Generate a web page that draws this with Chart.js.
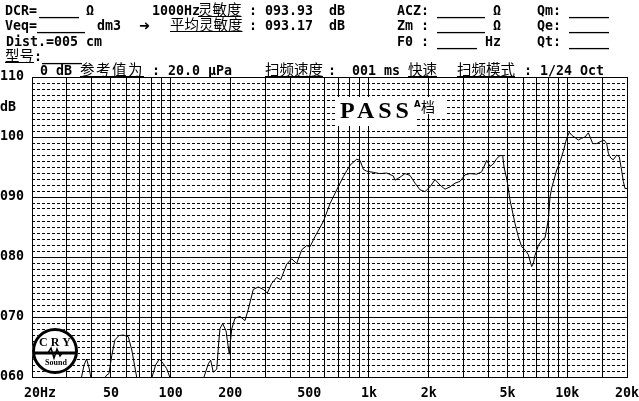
<!DOCTYPE html>
<html><head><meta charset="utf-8">
<script src="https://cdn.jsdelivr.net/npm/chart.js@4.4.1/dist/chart.umd.min.js"></script>
<style>
html,body{margin:0;padding:0;background:#fff}
#wrap{position:relative;width:639px;height:401px;overflow:hidden;background:#fff}
canvas{position:absolute;left:0;top:0}
.t{position:absolute;font-family:"DejaVu Sans Mono";font-weight:bold;font-size:13.3px;line-height:14px;white-space:pre;color:#000}
.cn{font-family:"Noto Sans CJK SC";font-weight:normal;font-size:14.5px;line-height:1px;text-decoration:underline;text-underline-offset:1px;text-decoration-thickness:1px}
.wb{position:absolute;background:#fff}
</style></head>
<body><div id="wrap"><canvas id="c" width="639" height="401"></canvas>
<!-- header line 1 -->
<div class="t" style="left:5px;top:4px">DCR=</div>
<div class="t" style="left:39px;top:4px">_____</div>
<div class="t" style="left:86px;top:4px">Ω</div>
<div class="t" style="left:152px;top:4px">1000Hz</div>
<div class="t" style="left:198px;top:4px"><span class="cn">灵敏度</span></div>
<div class="t" style="left:249px;top:4px">: 093.93  dB</div>
<div class="t" style="left:397px;top:4px">ACZ: ______ Ω</div>
<div class="t" style="left:537px;top:4px">Qm: _____</div>
<!-- header line 2 -->
<div class="t" style="left:5px;top:19px">Veq=______</div>
<div class="t" style="left:97px;top:19px">dm3</div>
<div class="t" style="left:139px;top:19px;font-family:'DejaVu Sans'">➜</div>
<div class="t" style="left:170px;top:19px"><span class="cn">平均灵敏度</span></div>
<div class="t" style="left:249px;top:19px">: 093.17  dB</div>
<div class="t" style="left:397px;top:19px">Zm : ______ Ω</div>
<div class="t" style="left:537px;top:19px">Qe: _____</div>
<!-- header line 3 -->
<div class="t" style="left:6px;top:35px">Dist.=005 cm</div>
<div class="t" style="left:397px;top:35px">F0 : _____ Hz</div>
<div class="t" style="left:537px;top:35px">Qt: _____</div>
<!-- header line 4 -->
<div class="t" style="left:5px;top:50px"><span class="cn">型号</span>:_____</div>
<!-- header line 5 -->
<div class="t" style="left:40px;top:64px">0 dB</div>
<div class="t" style="left:80px;top:64px"><span class="cn" style="letter-spacing:1.5px">参考值为</span></div>
<div class="t" style="left:152px;top:64px">: 20.0 μPa</div>
<div class="t" style="left:265px;top:64px"><span class="cn">扫频速度</span></div>
<div class="t" style="left:328px;top:64px">:  001 ms</div>
<div class="t" style="left:408px;top:64px"><span class="cn">快速</span></div>
<div class="t" style="left:457px;top:64px"><span class="cn">扫频模式</span></div>
<div class="t" style="left:524px;top:64px">: 1/24 Oct</div>
<div class="t" style="left:0px;top:100px">dB</div>
<!-- PASS stamp -->
<div class="wb" style="left:335px;top:97px;width:82px;height:29px"></div>
<div class="wb" style="left:417px;top:97px;width:30px;height:17px"></div>
<div style="position:absolute;left:340px;top:98px;font:bold 24px 'Liberation Serif';line-height:24px;letter-spacing:4px;color:#000">PASS</div>
<div style="position:absolute;left:414px;top:100px;font:bold 8.5px 'DejaVu Sans';line-height:9px;color:#000">A</div>
<div style="position:absolute;left:421px;top:99px;font:14px 'Noto Sans CJK SC';line-height:14px;color:#000">档</div>
</div>
<script>
// Measured frequency response (Hz, dB SPL)
const freqHz = [
  20, 34.1, 35.3, 36.6, 37.7, 38.8, 40.1, 42, 45.1, 47.2,
  48.9, 50.5, 52.4, 54.9, 57.7, 61.2, 63.7, 67.4, 70.1, 76.9,
  80.6, 84, 87.7, 91.5, 95.5, 99, 103, 140.7, 147.3, 154.9,
  159.2, 164.1, 170.8, 175, 177.4, 183, 190.2, 197.6, 203.2, 211.1,
  223.7, 237.1, 246.4, 261.1, 276.7, 293.2, 307.2, 323.3, 342.6, 358.9,
  384.7, 407.7, 432.1, 457.9, 485.3, 504.2, 534.4, 588.6, 636.3, 687.8,
  742.5, 802.7, 867.6, 901.5, 936.8, 974.4, 1052, 1137, 1229, 1327,
  1353, 1434, 1520, 1611, 1707, 1809, 1917, 2031, 2153, 2281,
  2418, 2562, 2715, 2877, 3049, 3231, 3493, 3702, 3923, 4077,
  4236, 4406, 4578, 4724, 4797, 4967, 5142, 5449, 5662, 5891,
  6120, 6358, 6613, 6738, 6873, 7142, 7430, 7720, 8021, 8181,
  8345, 8843, 9188, 9547, 9931, 10238, 10528, 10940, 11368, 11825,
  12287, 12767, 13022, 13435, 14074, 14622, 15316, 15804, 16101, 16556,
  17064, 17751, 18296, 18813, 19167, 19545, 20000
];
const splDb = [
  50, 55, 59.5, 62, 63, 61.5, 59, 55, 58.5, 60.2,
  60.6, 63.6, 66.2, 66.9, 67, 66.7, 64.5, 60, 57, 57,
  60, 62, 63, 62.3, 61.4, 60, 57, 57, 60, 62.2,
  62.8, 60.8, 61.3, 66, 68.1, 68.9, 67.7, 63.8, 68, 69.8,
  70.1, 69.4, 71.3, 74.6, 75, 74.6, 74, 75.6, 76.6, 76.2,
  78.8, 79.7, 78.9, 81.2, 81.9, 81.7, 83.4, 85.9, 88.9, 91.2,
  93.4, 95.3, 96.3, 96.1, 94.6, 94.3, 94.1, 93.9, 94, 93.5,
  92.8, 93.3, 93.9, 93.6, 92.3, 91.2, 90.9, 91.7, 92.9, 92,
  91.3, 91.7, 92.3, 92.6, 93.7, 93.9, 93.8, 94.2, 96.1, 95.1,
  95.5, 96.4, 96.9, 96.9, 95, 92.8, 89.5, 85.6, 83.4, 81.7,
  81.2, 80.4, 78.4, 78.9, 80.3, 81.9, 82.8, 83.2, 86.2, 90,
  91.5, 94.5, 95.8, 97.6, 99.8, 100.8, 100.3, 99.9, 99.5, 99.8,
  100, 100.7, 100, 98.9, 98.9, 99.2, 99.5, 98.9, 97.3, 96.5,
  96.2, 97, 96.7, 94.3, 92.6, 91.4, 91.4
];
// Axis grid & labels
const xGridHz = [20,30,40,50,60,70,80,90,100,200,300,400,500,600,700,800,900,1000,2000,3000,4000,5000,6000,7000,8000,9000,10000,15000,20000];
const xLabelHz = [20, 50, 100, 200, 500, 1000, 2000, 5000, 10000, 20000];
const xLabelText = ['  20Hz', '50', '100', '200', '500', '1k', '2k', '5k', '10k', '20k'];
const yLabelDb = [60, 70, 80, 90, 100, 110];
const yLabelText = ['060', '070', '080', '090', '100', '110'];

const tickFont = {family: '"DejaVu Sans Mono"', weight: 'bold', size: 13.3};

const logoPlugin = {
  id: 'logo',
  afterDraw(chart) {
    const c = chart.ctx;
    const cx = 55, cy = 351;
    c.save();
    c.fillStyle = '#fff';
    c.beginPath(); c.arc(cx, cy, 23, 0, Math.PI * 2); c.fill();
    c.strokeStyle = '#000'; c.lineWidth = 3;
    c.beginPath(); c.arc(cx, cy, 21.5, 0, Math.PI * 2); c.stroke();
    c.fillStyle = '#000';
    c.textAlign = 'center'; c.textBaseline = 'middle';
    c.font = 'bold 12px "Liberation Serif"';
    c.fillText('C R Y', cx, cy - 8);
    c.lineWidth = 3;
    c.beginPath(); c.moveTo(33, cy + 2); c.lineTo(77, cy + 2); c.stroke();
    c.lineWidth = 1.5;
    c.beginPath(); c.moveTo(48, cy + 2); c.lineTo(51, cy - 3); c.lineTo(54, cy + 7); c.lineTo(57, cy - 2); c.lineTo(60, cy + 5); c.lineTo(62, cy + 2); c.stroke();
    c.font = 'bold 8px "Liberation Serif"';
    c.fillText('Sound', cx + 1, cy + 12);
    c.restore();
  }
};

new Chart(document.getElementById('c'), {
  type: 'line',
  data: {datasets: [{
    data: freqHz.map((f, i) => ({x: f, y: splDb[i]})),
    borderColor: '#000', borderWidth: 1, pointRadius: 0, tension: 0, fill: false
  }]},
  options: {
    responsive: false, animation: false, devicePixelRatio: 1,
    layout: {padding: {top: 77, right: 12, left: 0, bottom: 0}},
    plugins: {legend: {display: false}, tooltip: {enabled: false}},
    scales: {
      x: {
        type: 'logarithmic', position: 'bottom', min: 20, max: 20000,
        afterBuildTicks(s) { s.ticks = xGridHz.map(v => ({value: v})); },
        afterFit(s) { s.height = 24; s.paddingLeft = 0; s.paddingRight = 0; },
        ticks: {
          autoSkip: false, maxRotation: 0, minRotation: 0, padding: 9, color: '#000', font: tickFont,
          callback(v) { const i = xLabelHz.indexOf(v); return i < 0 ? '' : xLabelText[i]; }
        },
        grid: {color: '#000', lineWidth: 1, drawTicks: false},
        border: {color: '#000', width: 1}
      },
      y: {
        type: 'linear', position: 'left', min: 60, max: 110,
        afterBuildTicks(s) { s.ticks = yLabelDb.map(v => ({value: v})); },
        afterFit(s) { s.width = 32; s.paddingTop = 0; s.paddingBottom = 0; },
        ticks: {
          crossAlign: 'far', color: '#000', font: tickFont,
          callback(v) { const i = yLabelDb.indexOf(v); return i < 0 ? '' : yLabelText[i]; }
        },
        grid: {color: '#000', lineWidth: 1, drawTicks: false},
        border: {color: '#000', width: 1}
      },
      y2: {
        type: 'linear', position: 'right', min: 60, max: 110,
        afterFit(s) { s.width = 0; s.paddingTop = 0; s.paddingBottom = 0; },
        ticks: {display: false, stepSize: 1, maxTicksLimit: 100},
        grid: {color: '#000', lineWidth: 1, drawTicks: false},
        border: {color: '#000', width: 1, dash: [3, 2]}
      }
    }
  },
  plugins: [logoPlugin]
});
</script>
</body></html>
